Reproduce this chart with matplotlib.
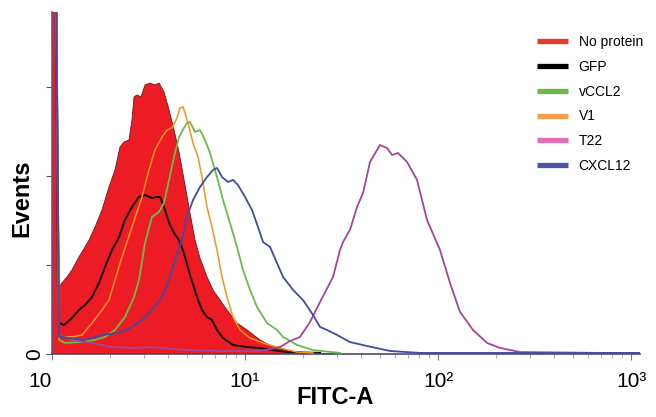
import matplotlib
matplotlib.use("Agg")
import matplotlib.pyplot as plt
from matplotlib.lines import Line2D
import numpy as np

plt.rcParams['font.family'] = ['Liberation Sans', 'DejaVu Sans']

# ---- data (FITC-A intensity, event counts) ----
red_x = [1.0, 1.035, 1.06, 1.087, 1.127, 1.196, 1.269, 1.380, 1.483, 1.555, 1.671, 1.816, 1.974,
         2.121, 2.251, 2.361, 2.506, 2.597, 2.660, 2.757, 2.892, 3.033, 3.219, 3.417, 3.584,
         3.805, 4.040, 4.288, 4.550, 4.888, 5.188, 5.508, 5.845, 6.354, 6.826, 7.422, 8.066,
         9.090, 10.24, 11.96, 13.97, 17.11, 21.72, 31.06]
red_y = [300, 300, 38.5, 37.6, 39.9, 43.3, 47.2, 54.5, 60.1, 64.0, 71.3, 80.9, 93.8,
         103.4, 116.3, 119.1, 120.2, 131.5, 144.4, 145.5, 144.4, 151.1, 152.2, 151.1, 152.2,
         147.2, 137.1, 125.8, 113.5, 94.9, 79.2, 64.0, 53.9, 43.3, 36.0, 30.3, 24.7,
         17.4, 13.5, 7.9, 3.9, 1.7, 0.6, 0.0]

gfp_x = [1.0, 1.035, 1.087, 1.154, 1.269, 1.380, 1.483, 1.612, 1.752, 1.882, 2.046, 2.225, 2.389,
         2.597, 2.823, 3.033, 3.297, 3.499, 3.627, 3.805, 4.040, 4.288, 4.550, 4.829, 5.188,
         5.640, 5.986, 6.354, 6.745, 7.160, 7.692, 8.667, 10.24, 11.96, 13.97, 16.51, 24.47]
gfp_y = [300, 300, 17.4, 16.3, 20.2, 24.7, 27.5, 32.0, 39.9, 48.9, 58.4, 65.7, 75.3,
         82.6, 88.2, 89.3, 87.6, 88.2, 88.2, 82.6, 73.6, 68.0, 64.0, 56.7, 44.4,
         32.0, 24.7, 20.8, 19.1, 13.5, 9.0, 5.1, 3.9, 3.4, 2.2, 1.1, 0.6]

v1_x = [1.0, 1.035, 1.087, 1.269, 1.430, 1.612, 1.816, 1.974, 2.121, 2.306, 2.597, 2.927, 3.181,
        3.417, 3.715, 3.944, 4.187, 4.444, 4.605, 4.773, 4.888, 5.066, 5.378, 5.708, 5.986,
        6.354, 6.745, 7.160, 7.601, 8.066, 8.667, 9.421, 10.62, 12.40, 15.18, 18.60, 22.51]
v1_y = [300, 300, 9.6, 9.6, 10.7, 17.4, 24.7, 30.3, 41.6, 54.5, 71.3, 88.2, 103.4,
        114.6, 121.9, 125.8, 127.0, 132.6, 138.2, 138.8, 135.4, 129.8, 118.5, 110.7, 99.4,
        82.6, 71.3, 58.4, 43.3, 32.0, 20.8, 13.5, 9.0, 6.2, 3.4, 1.1, 0.6]

vccl2_x = [1.0, 1.035, 1.087, 1.168, 1.380, 1.671, 1.882, 2.121, 2.389, 2.660, 2.823, 3.033, 3.297,
           3.584, 3.805, 4.040, 4.288, 4.550, 4.829, 5.006, 5.188, 5.508, 5.845, 6.203, 6.588,
           7.160, 7.692, 8.360, 9.090, 9.763, 10.62, 11.54, 13.00, 14.65, 15.74, 18.60, 22.51, 31.06]
vccl2_y = [300, 300, 7.9, 6.2, 6.7, 7.9, 9.6, 13.5, 20.8, 32.0, 41.6, 62.4, 77.0,
           79.8, 84.8, 97.8, 110.7, 121.9, 127.0, 129.8, 130.3, 124.7, 125.8, 120.2, 112.9,
           99.4, 86.5, 73.6, 60.1, 47.2, 36.0, 26.4, 17.4, 13.5, 9.6, 5.1, 2.2, 0.6]

t22_x = [1.0, 1.035, 1.087, 1.269, 1.612, 2.046, 2.692, 3.297, 4.888, 7.422, 11.96, 15.18, 17.11,
         19.28, 21.72, 24.47, 28.58, 31.06, 32.20, 34.99, 38.05, 40.88, 44.43, 50.06, 54.43,
         57.78, 62.04, 69.09, 77.84, 87.70, 102.4, 115.4, 130.0, 151.8, 179.5, 209.5, 266.0,
         690.9, 1113]
t22_y = [300, 300, 10.7, 7.9, 6.2, 3.9, 3.4, 3.9, 2.2, 1.7, 1.7, 3.9, 7.3,
         9.6, 18.0, 29.2, 43.3, 58.4, 62.9, 69.7, 82.6, 90.4, 107.9, 117.4, 115.7,
         111.8, 112.9, 107.9, 97.8, 75.3, 58.4, 39.9, 23.6, 13.5, 6.2, 3.4, 1.1,
         0.6, 0.6]

cxcl12_x = [1.0, 1.035, 1.087, 1.225, 1.483, 1.816, 2.225, 2.597, 2.927, 3.297, 3.715, 4.040, 4.340,
            4.716, 5.006, 5.378, 5.845, 6.354, 6.826, 7.160, 7.601, 8.163, 8.667, 9.199, 10.0,
            10.87, 11.68, 12.40, 13.48, 14.65, 15.74, 17.74, 19.98, 22.51, 24.47, 26.60, 29.98,
            34.99, 42.87, 56.41, 80.66, 1113]
cxcl12_y = [300, 300, 9.6, 9.0, 7.9, 10.7, 11.8, 15.2, 19.1, 24.7, 32.0, 41.6, 52.8,
            64.0, 77.0, 86.5, 93.8, 99.4, 103.4, 104.5, 99.4, 96.6, 97.8, 94.9, 88.2,
            80.9, 71.3, 62.9, 60.1, 51.1, 43.3, 36.0, 30.3, 21.9, 15.2, 13.5, 10.7,
            6.7, 4.5, 1.7, 0.6, 0.6]

legend_labels = ["No protein", "GFP", "vCCL2", "V1", "T22", "CXCL12"]
legend_colors = ["#e8382c", "#000000", "#6cb84a", "#f4a04a", "#e46db3", "#4b55a0"]

x_ticks = [1, 10, 100, 1000]
x_tick_labels = ["10", "10\u00b9", "10\u00b2", "10\u00b3"]
y_ticks = [0, 50, 100, 150]
y_tick_labels = ["0", "", "", ""]

# ---- figure ----
W, H = 656, 417
fig = plt.figure(figsize=(W / 100, H / 100), dpi=100)
ax = fig.add_axes([52 / W, 1 - 354 / H, (640 - 52) / W, (354 - 12) / H])

ax.fill_between(red_x, 0, red_y, facecolor="#ed1c24", edgecolor="#6a1a1a", linewidth=0.6, zorder=1)
ax.plot(gfp_x, gfp_y, color="#111111", lw=1.4, zorder=2)
ax.plot(v1_x, v1_y, color="#f7941d", lw=1.1, zorder=3)
ax.plot(vccl2_x, vccl2_y, color="#6abd45", lw=1.3, zorder=4)
ax.plot(t22_x, t22_y, color="#a9429a", lw=1.3, zorder=5)
ax.plot(cxcl12_x, cxcl12_y, color="#3f4ca0", lw=1.3, zorder=6)

ax.set_xscale("log")
ax.set_xlim(1, 1113)
ax.set_ylim(0, 192.1)

for s in ["top", "right"]:
    ax.spines[s].set_visible(False)
ax.spines["left"].set_color("#5a5a9a")
ax.spines["bottom"].set_color("#4a4a70")
ax.spines["left"].set_linewidth(1.2)
ax.spines["bottom"].set_linewidth(1.2)

ax.set_xticks(x_ticks)
ax.set_xticklabels(x_tick_labels, fontsize=15)
ax.xaxis.set_minor_locator(matplotlib.ticker.LogLocator(base=10, subs=np.arange(2, 10)))
ax.xaxis.set_minor_formatter(matplotlib.ticker.NullFormatter())
ax.tick_params(axis="x", which="major", length=4, color="#777777", pad=9)
ax.tick_params(axis="x", which="minor", length=3, color="#999999")
lbls = ax.get_xticklabels()
lbls[0].set_horizontalalignment("right")

ax.set_yticks(y_ticks)
ax.set_yticklabels(y_tick_labels, fontsize=15, rotation=90, va="center")
ax.tick_params(axis="y", length=4, color="#555555", pad=2)

fig.text(22 / W, 1 - 198 / H, "Events", rotation=90, fontsize=17, fontweight="bold",
         ha="center", va="center")
fig.text(335 / W, 1 - 397 / H, "FITC-A", fontsize=17, fontweight="bold",
         ha="center", va="center")

handles = [Line2D([0], [0], color=c, lw=3.8, solid_capstyle="butt") for c in legend_colors]
fig.legend(handles, legend_labels, loc="upper left", bbox_to_anchor=(537 / W, 1 - 35 / H),
           frameon=False, fontsize=10, handlelength=2.25, handletextpad=0.75,
           labelspacing=0.78, borderpad=0, borderaxespad=0)

fig.savefig("out.png", dpi=100)
